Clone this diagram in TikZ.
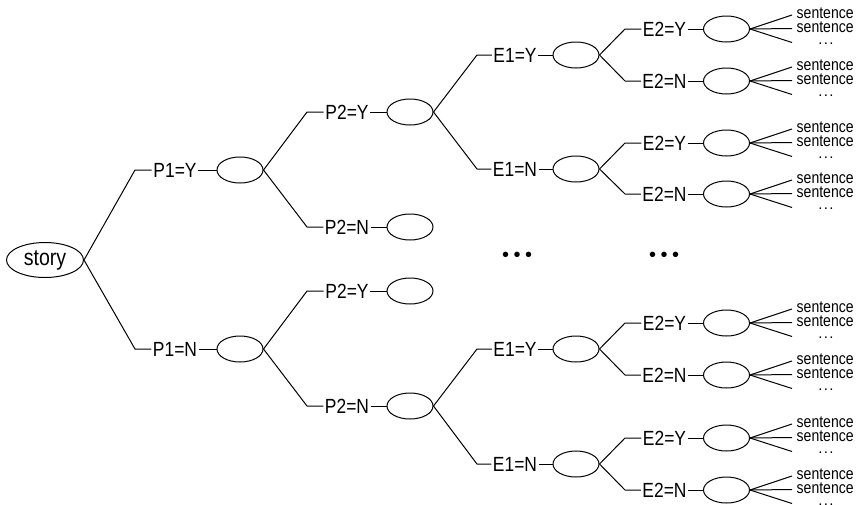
\documentclass[tikz,border=0pt]{standalone}
\usepackage{fontspec}
\setmainfont{Liberation Sans}
\newfontfamily\narrowfont[FakeStretch=0.85]{Liberation Sans}
\usetikzlibrary{shapes.geometric}
\newcommand\brnch[7]{%
  \coordinate (#2c) at (#4,#5);
  \node[lab] (#2l) at (#6,#5) {#3};
  \node[circ] (#2) at (#7,#5) {};
  \draw[edge] (#1.east) -- (#2c) -- (#2l.west);
  \draw[edge] (#2l.east) -- (#2.west);
}
\newcommand\fanout[2]{%
  \node[sent] (#1s1) at (792,#2-14) {sentence};
  \node[sent] (#1s2) at (792,#2-0.5) {sentence};
  \coordinate (#1s3c) at (792,#2+13.5);
  \node[smalldots] (#1s3) at (826,#2+15) {.\kern1.3pt.\kern1.3pt.};
  \draw[edge] (#1.east) -- (#1s1.west);
  \draw[edge] (#1.east) -- (#1s2.west);
  \draw[edge] (#1.east) -- (#1s3c);
}
\begin{document}
\begin{tikzpicture}[x=1pt,y=-1pt,
  edge/.style={line width=1pt},
  lab/.style={inner sep=1.5pt, font=\narrowfont\fontsize{20.5}{20.5}\selectfont},
  circ/.style={draw, ellipse, line width=1pt, minimum width=46pt, minimum height=26pt, inner sep=0pt},
  rootcirc/.style={draw, ellipse, line width=1pt, minimum width=77pt, minimum height=35pt, inner sep=0pt, font=\narrowfont\fontsize{23}{23}\selectfont},
  sent/.style={anchor=west, inner xsep=4.5pt, inner ysep=0pt, text height=7pt, text depth=0pt, font=\narrowfont\fontsize{16.5}{16.5}\selectfont},
  smalldots/.style={anchor=base, inner sep=0pt, font=\fontsize{15}{15}\selectfont},
  bigdots/.style={inner sep=0pt, font=\fontsize{20}{20}\selectfont}]
\useasboundingbox (0,0) rectangle (859,504);
\node[rootcirc] (st) at (45,260) {story};
% level 1
\brnch{st}{a}{P1=Y}{135}{170}{175}{240}
\brnch{st}{b}{P1=N}{135}{349}{175}{240}
% level 2
\brnch{a}{aa}{P2=Y}{307}{112}{347}{410}
\brnch{a}{ab}{P2=N}{307}{227}{347}{410}
\brnch{b}{ba}{P2=Y}{307}{291}{347}{410}
\brnch{b}{bb}{P2=N}{307}{406}{347}{410}
% level 3
\brnch{aa}{aaa}{E1=Y}{477}{55}{515}{576}
\brnch{aa}{aab}{E1=N}{477}{169}{515}{576}
\brnch{bb}{bba}{E1=Y}{477}{349}{515}{576}
\brnch{bb}{bbb}{E1=N}{477}{464}{515}{576}
% level 4
\brnch{aaa}{aaaa}{E2=Y}{625}{29}{664.5}{726.5}
\brnch{aaa}{aaab}{E2=N}{625}{81}{664.5}{726.5}
\brnch{aab}{aaba}{E2=Y}{625}{143}{664.5}{726.5}
\brnch{aab}{aabb}{E2=N}{625}{194}{664.5}{726.5}
\brnch{bba}{bbaa}{E2=Y}{625}{323}{664.5}{726.5}
\brnch{bba}{bbab}{E2=N}{625}{375}{664.5}{726.5}
\brnch{bbb}{bbba}{E2=Y}{625}{438}{664.5}{726.5}
\brnch{bbb}{bbbb}{E2=N}{625}{490}{664.5}{726.5}
% leaves
\fanout{aaaa}{29}
\fanout{aaab}{81}
\fanout{aaba}{143}
\fanout{aabb}{194}
\fanout{bbaa}{323}
\fanout{bbab}{375}
\fanout{bbba}{438}
\fanout{bbbb}{490}
% middle dots
\node[bigdots] (d1) at (517,257) {\textbullet\kern4.5pt\textbullet\kern4.5pt\textbullet};
\node[bigdots] (d2) at (664,257) {\textbullet\kern4.5pt\textbullet\kern4.5pt\textbullet};
\end{tikzpicture}
\end{document}
